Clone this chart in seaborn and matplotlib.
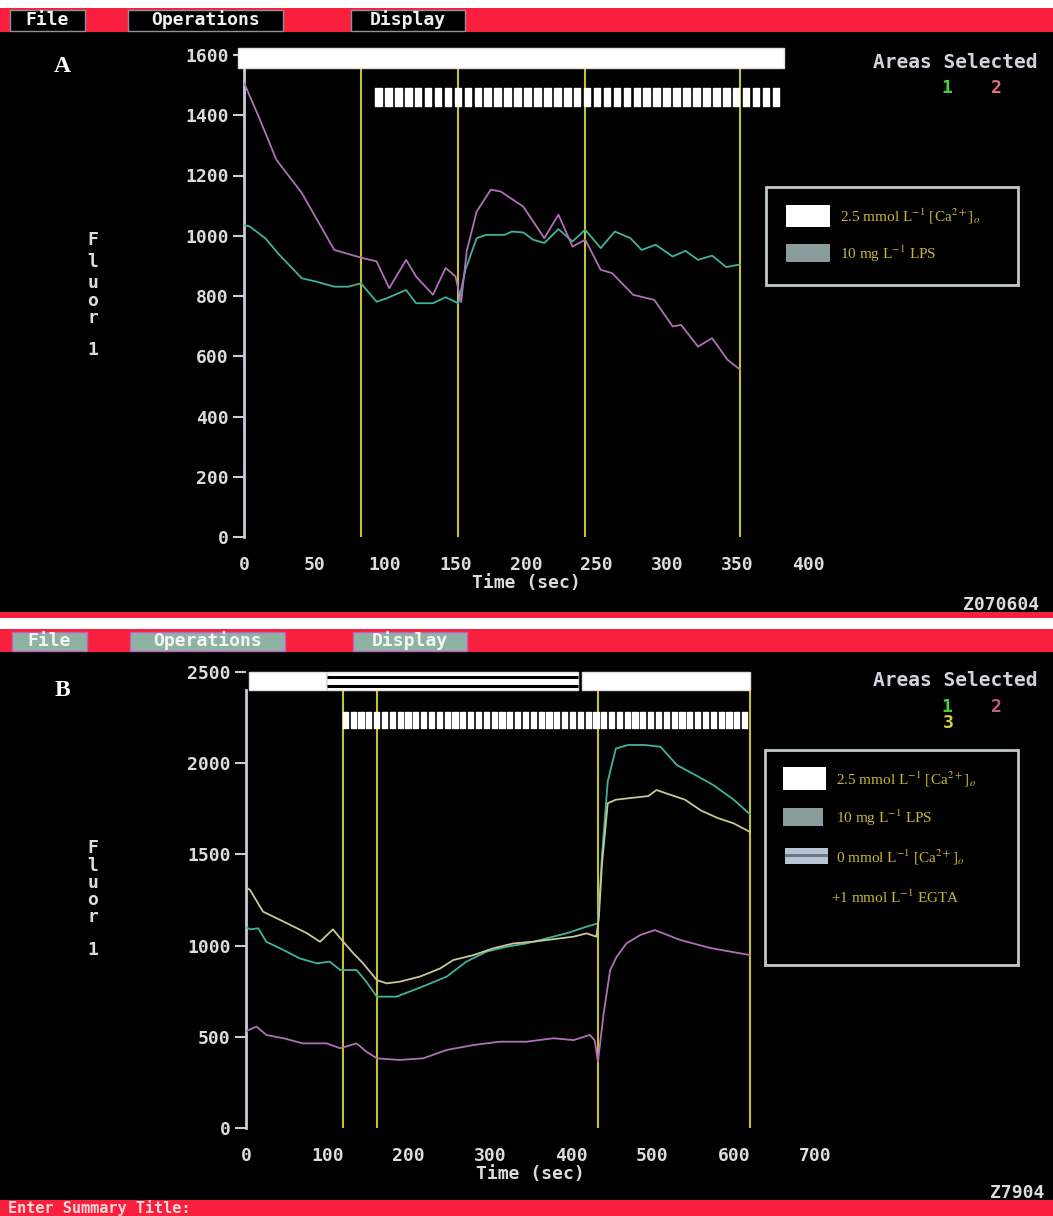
import numpy as np
import pandas as pd
import matplotlib
matplotlib.use("Agg")
import matplotlib.pyplot as plt
from matplotlib.patches import Rectangle
import seaborn as sns

# ---- data ----
# panel A: areas 1 (green) and 2 (pink)
tA_1 = [0, 4, 15, 25, 41, 51, 64, 74, 83, 94, 101, 115, 122, 134, 143, 152, 157, 165, 172,
        185, 190, 198, 205, 213, 223, 233, 242, 253, 263, 274, 282, 292, 304, 313, 322, 332, 342, 352]
fA_1 = [1035, 1031, 992, 937, 859, 848, 831, 831, 842, 781, 792, 820, 776, 776, 796, 776, 887, 992, 1003,
        1003, 1014, 1011, 987, 976, 1022, 981, 1020, 959, 1014, 992, 953, 970, 931, 950, 920, 934, 896, 905]
tA_2 = [0, 10, 23, 41, 64, 84, 94, 103, 115, 122, 134, 143, 150, 154, 158, 165, 175, 182, 198, 213,
        223, 233, 242, 253, 261, 276, 291, 304, 310, 322, 332, 343, 352]
fA_2 = [1508, 1400, 1252, 1142, 953, 926, 915, 826, 920, 865, 804, 893, 865, 780, 950, 1080, 1153, 1147, 1097, 992,
        1070, 964, 987, 887, 876, 804, 787, 699, 704, 632, 660, 588, 555]

# panel B: areas 1 (green), 2 (pink), 3 (yellow)
tB_1 = [0, 5, 15, 25, 46, 66, 87, 103, 116, 136, 148, 161, 185, 206, 222, 247, 271, 296, 321, 345,
        370, 394, 419, 433, 438, 445, 455, 470, 490, 510, 530, 555, 575, 600, 620]
fB_1 = [1102, 1089, 1095, 1021, 976, 930, 903, 912, 866, 866, 802, 720, 720, 756, 784, 830, 912, 967, 994, 1012,
        1040, 1067, 1104, 1122, 1500, 1900, 2080, 2100, 2100, 2090, 1990, 1930, 1880, 1800, 1720]
tB_2 = [0, 3, 13, 25, 46, 70, 99, 116, 136, 148, 161, 189, 218, 247, 280, 312, 345, 378, 403, 423,
        429, 433, 440, 448, 456, 468, 485, 503, 534, 571, 620]
fB_2 = [530, 537, 556, 510, 492, 464, 464, 437, 464, 419, 382, 373, 382, 428, 455, 473, 473, 492, 482, 510,
        480, 364, 629, 866, 939, 1012, 1058, 1085, 1031, 987, 948]
tB_3 = [0, 5, 21, 46, 75, 91, 107, 116, 132, 144, 161, 173, 189, 214, 239, 255, 280, 304, 329, 353,
        378, 403, 419, 431, 434, 438, 445, 455, 475, 495, 505, 520, 540, 560, 580, 600, 620]
fB_3 = [1320, 1305, 1186, 1132, 1068, 1021, 1089, 1040, 958, 903, 811, 793, 802, 830, 875, 921, 948, 985, 1012, 1021,
        1035, 1049, 1067, 1049, 1150, 1450, 1780, 1800, 1810, 1820, 1853, 1830, 1800, 1740, 1700, 1670, 1623]

# treatment periods (sec) and event markers
caA = [(-4, 383)]
lpsA = (93, 382)
eventsA = [83, 152, 242, 352]
caB = [(4, 98), (413, 620)]
zeroCaB = (100, 408)
lpsB = (119, 620)
eventsB = [119, 161, 433, 620]

yticksA = [0, 200, 400, 600, 800, 1000, 1200, 1400, 1600]
xticksA = [0, 50, 100, 150, 200, 250, 300, 350, 400]
yticksB = [0, 500, 1000, 1500, 2000, 2500]
xticksB = [0, 100, 200, 300, 400, 500, 600, 700]

legendA = [r"2.5 mmol L$^{-1}$ [Ca$^{2+}$]$_o$", r"10 mg L$^{-1}$ LPS"]
legendB = [r"2.5 mmol L$^{-1}$ [Ca$^{2+}$]$_o$", r"10 mg L$^{-1}$ LPS",
           r"0 mmol L$^{-1}$ [Ca$^{2+}$]$_o$", r"+1 mmol L$^{-1}$ EGTA"]

# ---- style ----
sns.set_style("dark", {"axes.facecolor": "black", "figure.facecolor": "black"})
plt.rcParams['font.family'] = ['DejaVu Sans Mono']
plt.rcParams['mathtext.fontset'] = 'stix'

W, H = 1053, 1216
RED = "#f8203c"
AXC = "#c8ccd4"
TXT = "#dcdcdc"
YEL = "#c8c030"
LEG = "#c8b43c"
C1, C2, C3 = "#3fb39c", "#b070b8", "#c8c898"

fig = plt.figure(figsize=(W / 100, H / 100), dpi=100)
fig.patch.set_facecolor("black")


def fx(x):
    return x / W


def fy(y):
    return 1 - y / H


def frect(x0, y0, x1, y1, **kw):
    fig.patches.append(Rectangle((fx(x0), fy(y1)), (x1 - x0) / W, (y1 - y0) / H,
                                 transform=fig.transFigure, **kw))


def ftext(x, y, s, **kw):
    fig.text(fx(x), fy(y), s, **kw)


# ---- screen chrome ----
frect(0, 0, W, 8, facecolor="white", edgecolor="none")
frect(0, 8, W, 32, facecolor=RED, edgecolor="none")
frect(0, 612, W, 618, facecolor=RED, edgecolor="none")
frect(0, 618, W, 629, facecolor="white", edgecolor="none")
frect(0, 629, W, 652, facecolor=RED, edgecolor="none")
frect(0, 1200, W, H, facecolor=RED, edgecolor="none")

menus = [("File", 10, 85), ("Operations", 128, 283), ("Display", 351, 465)]
for name, x0, x1 in menus:
    frect(x0, 10, x1, 31, facecolor="black", edgecolor="#9090a0", lw=1)
    ftext((x0 + x1) / 2, 20, name, color="#f0f0f0", fontsize=13, fontweight="bold",
          ha="center", va="center")
    frect(x0 + 2, 632, x1 + 2, 651, facecolor="#8fb3a3", edgecolor="#c060c0", lw=1)
    ftext((x0 + x1) / 2 + 2, 641, name, color="#f4f4f4", fontsize=13, fontweight="bold",
          ha="center", va="center")

ftext(8, 1208, "Enter Summary Title:", color="#ffd8d8", fontsize=11, fontweight="bold",
      ha="left", va="center")


def make_panel(left, right, top, bottom, xmax, ymax, xticks, yticks, spine_top):
    ax = fig.add_axes([fx(left), fy(bottom), (right - left) / W, (bottom - top) / H])
    ax.set_facecolor("black")
    ax.set_xlim(0, xmax)
    ax.set_ylim(0, ymax)
    for s in ["top", "right", "bottom"]:
        ax.spines[s].set_visible(False)
    ax.spines["left"].set_color(AXC)
    ax.spines["left"].set_linewidth(2)
    ax.spines["left"].set_bounds(0, spine_top)
    ax.grid(False)
    ax.set_yticks(yticks)
    ax.set_yticklabels([str(v) for v in yticks], fontweight="bold")
    ax.set_xticks(xticks)
    ax.set_xticklabels([str(v) for v in xticks], fontweight="bold")
    ax.tick_params(axis="y", direction="out", length=8, width=1.5, color=AXC,
                   labelcolor=TXT, labelsize=13, pad=3, left=True)
    ax.tick_params(axis="x", length=0, labelcolor=TXT, labelsize=13, pad=14, bottom=True)
    return ax


def stripes(ax, span, y0, h, n):
    period = (span[1] - span[0]) / n
    segs = [(span[0] + i * period, period * 0.66) for i in range(n)]
    ax.broken_barh(segs, (y0, h), facecolors="white", clip_on=False, zorder=4)


# ---- panel A ----
axA = make_panel(244, 808, 55, 537, 400, 1600, xticksA, yticksA, 1560)
axA.vlines(eventsA, 0, 1555, color=YEL, lw=1.5, zorder=1)
for a, b in caA:
    axA.add_patch(Rectangle((a, 1558), b - a, 66, facecolor="white", edgecolor="#e0e0e0",
                            clip_on=False, zorder=4))
stripes(axA, lpsA, 1432, 59, 41)
dfA = pd.concat([pd.DataFrame({"t": tA_1, "f": fA_1, "area": "1"}),
                 pd.DataFrame({"t": tA_2, "f": fA_2, "area": "2"})])
sns.lineplot(data=dfA, x="t", y="f", hue="area", palette={"1": C1, "2": C2},
             linewidth=1.3, legend=False, ax=axA, zorder=3)
axA.set_ylabel("")
axA.set_xlabel("Time (sec)", color=TXT, fontsize=13, fontweight="bold", labelpad=0)

# ---- panel B ----
axB = make_panel(246, 815, 672, 1128, 700, 2500, xticksB, yticksB, 2400)
axB.vlines(eventsB, 0, 2400, color=YEL, lw=1.5, zorder=1)
for a, b in caB:
    axB.add_patch(Rectangle((a, 2400), b - a, 100, facecolor="white", edgecolor="#e0e0e0",
                            clip_on=False, zorder=4))
axB.add_patch(Rectangle((zeroCaB[0], 2400), zeroCaB[1] - zeroCaB[0], 100, facecolor="white",
                        edgecolor="#e0e0e0", clip_on=False, zorder=4))
axB.hlines([2425, 2470], zeroCaB[0], zeroCaB[1], color="black", lw=2.2, zorder=5)
stripes(axB, lpsB, 2193, 88, 52)
dfB = pd.concat([pd.DataFrame({"t": tB_1, "f": fB_1, "area": "1"}),
                 pd.DataFrame({"t": tB_2, "f": fB_2, "area": "2"}),
                 pd.DataFrame({"t": tB_3, "f": fB_3, "area": "3"})])
sns.lineplot(data=dfB, x="t", y="f", hue="area", palette={"1": C1, "2": C2, "3": C3},
             linewidth=1.3, legend=False, ax=axB, zorder=3)
axB.set_ylabel("")
axB.set_xlabel("Time (sec)", color=TXT, fontsize=13, fontweight="bold", labelpad=0)

# ---- panel letters, y label, area keys ----
serif = ["Liberation Serif", "DejaVu Serif"]
ftext(62, 66, "A", color="white", fontsize=17, fontweight="bold", family=serif, ha="center", va="center")
ftext(62, 690, "B", color="white", fontsize=17, fontweight="bold", family=serif, ha="center", va="center")
for ys in [(240, 262, 283, 301, 318, 350), (848, 866, 883, 900, 917, 950)]:
    for ch, yy in zip("Fluor1", ys):
        ftext(93, yy, ch, color=TXT, fontsize=13, fontweight="bold", ha="center", va="center")

for yy in (62, 681):
    ftext(873, yy, "Areas Selected", color="#d0d4dc", fontsize=14, fontweight="bold",
          ha="left", va="center")
ftext(947, 88, "1", color="#40d040", fontsize=13, fontweight="bold", ha="center", va="center")
ftext(996, 88, "2", color="#e07080", fontsize=13, fontweight="bold", ha="center", va="center")
ftext(947, 707, "1", color="#40d040", fontsize=13, fontweight="bold", ha="center", va="center")
ftext(996, 707, "2", color="#c06080", fontsize=13, fontweight="bold", ha="center", va="center")
ftext(948, 723, "3", color="#d8d040", fontsize=13, fontweight="bold", ha="center", va="center")

ftext(963, 605, "Z070604", color=TXT, fontsize=13, fontweight="bold", ha="left", va="center")
ftext(990, 1193, "Z7904", color=TXT, fontsize=13, fontweight="bold", ha="left", va="center")

# ---- legends ----
frect(766, 187, 1018, 285, facecolor="none", edgecolor="#c0c8c8", lw=2)
frect(786, 205, 830, 227, facecolor="white", edgecolor="none")
frect(786, 244, 830, 262, facecolor="#8a9c9c", edgecolor="none", hatch="....")
for txt, yy in zip(legendA, (216, 254)):
    ftext(840, yy, txt, color=LEG, fontsize=11, family=serif, ha="left", va="center")

frect(765, 750, 1018, 965, facecolor="none", edgecolor="#c0c8c8", lw=2)
frect(783, 767, 826, 790, facecolor="white", edgecolor="none")
frect(783, 808, 823, 826, facecolor="#8a9c9c", edgecolor="none", hatch="....")
frect(785, 848, 828, 864, facecolor="#b8c4d4", edgecolor="none")
frect(785, 854, 828, 857, facecolor="#6a7a8a", edgecolor="none")
for txt, xx, yy in zip(legendB, (836, 836, 836, 831), (779, 818, 857, 897)):
    ftext(xx, yy, txt, color=LEG, fontsize=11, family=serif, ha="left", va="center")

fig.savefig("out.png", dpi=100, facecolor="black")
